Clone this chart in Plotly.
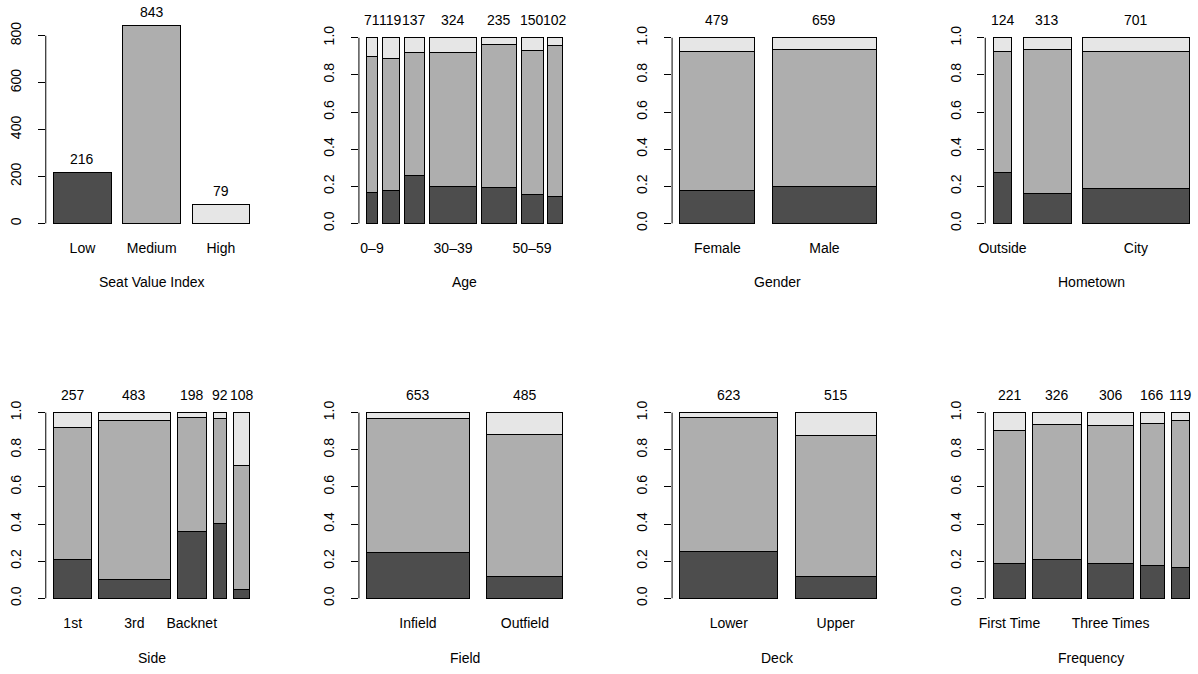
import plotly.graph_objects as go

# ---------------- data ----------------
level_names = ["Low", "Medium", "High"]
level_colors = ["#4D4D4D", "#AEAEAE", "#E6E6E6"]

svi_labels = ["Low", "Medium", "High"]
svi_counts = [216, 843, 79]

age_labels = ["0–9", "10–19", "20–29", "30–39", "40–49", "50–59", "60+"]
age_shown = ["0–9", "30–39", "50–59"]
age_low = [12, 21, 35, 64, 46, 23, 15]
age_med = [52, 85, 91, 235, 180, 117, 83]
age_high = [7, 13, 11, 25, 9, 10, 4]

gender_labels = ["Female", "Male"]
gender_shown = ["Female", "Male"]
gender_low = [84, 132]
gender_med = [359, 484]
gender_high = [36, 43]

home_labels = ["Outside", "Prefecture", "City"]
home_shown = ["Outside", "City"]
home_low = [34, 50, 132]
home_med = [81, 244, 518]
home_high = [9, 19, 51]

side_labels = ["1st", "3rd", "Backnet", "Left", "Right"]
side_shown = ["1st", "3rd", "Backnet"]
side_low = [53, 50, 71, 37, 5]
side_med = [184, 413, 122, 52, 72]
side_high = [20, 20, 5, 3, 31]

field_labels = ["Infield", "Outfield"]
field_shown = ["Infield", "Outfield"]
field_low = [160, 56]
field_med = [472, 371]
field_high = [21, 58]

deck_labels = ["Lower", "Upper"]
deck_shown = ["Lower", "Upper"]
deck_low = [157, 59]
deck_med = [450, 393]
deck_high = [16, 63]

freq_labels = ["First Time", "Twice", "Three Times", "Four Times", "Five+ Times"]
freq_shown = ["First Time", "Three Times"]
freq_low = [41, 68, 58, 29, 20]
freq_med = [159, 237, 226, 127, 94]
freq_high = [21, 21, 22, 10, 5]

# ---------------- layout geometry (pixels) ----------------
W, H = 1198, 674
FONT = "Liberation Sans, Arial, Helvetica, sans-serif"
FS = 14
col_left = [39, 354, 669, 984]
plot_w = 213
row_y0 = [220, 597.7]   # pixel of y = 0
row_y1 = [33, 410.7]    # pixel of y = 1
title_y = [279.3, 657.7]
unit_px = 187.0

fig = go.Figure()
layout = dict(width=W, height=H, margin=dict(l=0, r=0, t=0, b=0),
              paper_bgcolor="white", plot_bgcolor="white",
              showlegend=False, barmode="stack",
              font=dict(family=FONT, size=FS, color="black"))
shapes, annotations = [], []


def ax(letter, k):
    return letter if k == 1 else f"{letter}{k}"


def px_x(p):
    return p / W


def px_y(p):
    return 1 - p / H


def add_yaxis(k, rng, dom, tickvals, ticktext):
    layout[f"yaxis{'' if k == 1 else k}"] = dict(
        domain=dom, range=rng, anchor=ax("x", k),
        tickvals=tickvals, ticktext=ticktext,
        tickangle=-90, ticks="outside", ticklen=7,
        tickwidth=1, tickcolor="black",
        showgrid=False, zeroline=False, showline=False,
        ticklabelstandoff=11,
        tickfont=dict(family=FONT, size=FS, color="black"))


def add_xaxis(k, rng, dom, tickvals, ticktext):
    layout[f"xaxis{'' if k == 1 else k}"] = dict(
        domain=dom, range=rng, anchor=ax("y", k),
        tickvals=tickvals, ticktext=ticktext,
        ticks="", showgrid=False, zeroline=False,
        showline=False, ticklabelstandoff=7,
        tickfont=dict(family=FONT, size=FS, color="black"))


def add_title(k, text, row):
    annotations.append(dict(text=text, xref=f"{ax('x', k)} domain", x=0.5,
                            yref="paper", y=px_y(title_y[row]),
                            xanchor="center", yanchor="middle",
                            showarrow=False, font=dict(family=FONT, size=FS)))


# ---------------- panel 1: plain barplot ----------------
k = 1
bw = 1.0
sp = 0.2
centers = [sp + bw / 2 + i * (bw + sp) for i in range(len(svi_counts))]
xl = sp, len(svi_counts) * (bw + sp)
xr = xl[1] - xl[0]
xrange = [xl[0] - 0.04 * xr, xl[1] + 0.04 * xr]
ppu = 189.0 / 800  # pixels per count
y0p = row_y0[0]
top_px = 3
bot_px = y0p + 0.04 * 800 * ppu
yrange = [-(bot_px - y0p) / ppu, (y0p - top_px) / ppu]
fig.add_trace(go.Bar(x=centers, y=svi_counts, width=[bw] * 3,
                     marker=dict(color=level_colors, line=dict(color="black", width=1)),
                     xaxis="x", yaxis="y", hoverinfo="skip"))
add_xaxis(k, xrange, [px_x(col_left[0]), px_x(col_left[0] + plot_w)], centers, svi_labels)
add_yaxis(k, yrange, [px_y(bot_px), px_y(top_px)], [0, 200, 400, 600, 800],
          ["0", "200", "400", "600", "800"])
shapes.append(dict(type="line", xref="x domain", x0=0, x1=0, yref="y", y0=0, y1=800,
                   line=dict(color="black", width=1)))
for c, v in zip(centers, svi_counts):
    annotations.append(dict(text=str(v), xref="x", x=c, yref="y", y=v, yshift=14,
                            yanchor="middle", showarrow=False))
add_title(k, "Seat Value Index", 0)

# ---------------- spine panels ----------------
panels = [
    (2, 0, 1, "Age", age_labels, age_shown, age_low, age_med, age_high),
    (3, 0, 2, "Gender", gender_labels, gender_shown, gender_low, gender_med, gender_high),
    (4, 0, 3, "Hometown", home_labels, home_shown, home_low, home_med, home_high),
    (5, 1, 0, "Side", side_labels, side_shown, side_low, side_med, side_high),
    (6, 1, 1, "Field", field_labels, field_shown, field_low, field_med, field_high),
    (7, 1, 2, "Deck", deck_labels, deck_shown, deck_low, deck_med, deck_high),
    (8, 1, 3, "Frequency", freq_labels, freq_shown, freq_low, freq_med, freq_high),
]

for k, row, col, title, labels, shown, lo, me, hi in panels:
    n = [a + b + c for a, b, c in zip(lo, me, hi)]
    N = sum(n)
    s = 0.2 * N / len(n)
    lefts, pos = [], s
    for w in n:
        lefts.append(pos)
        pos += w + s
    cents = [l + w / 2 for l, w in zip(lefts, n)]
    x_lo, x_hi = s, lefts[-1] + n[-1]
    rg = x_hi - x_lo
    xrange = [x_lo - 0.04 * rg, x_hi + 0.04 * rg]
    bot = row_y0[row] + 0.04 * unit_px
    top = row_y1[row] - 0.04 * unit_px
    for vals, colr in zip([lo, me, hi], level_colors):
        fig.add_trace(go.Bar(x=cents, y=[v / t for v, t in zip(vals, n)], width=n,
                             marker=dict(color=colr, line=dict(color="black", width=1)),
                             xaxis=ax("x", k), yaxis=ax("y", k), hoverinfo="skip"))
    tv = [c for c, lab in zip(cents, labels) if lab in shown]
    tt = [lab for lab in labels if lab in shown]
    add_xaxis(k, xrange, [px_x(col_left[col]), px_x(col_left[col] + plot_w)], tv, tt)
    add_yaxis(k, [-0.04, 1.04], [px_y(bot), px_y(top)],
              [0, 0.2, 0.4, 0.6, 0.8, 1.0], ["0.0", "0.2", "0.4", "0.6", "0.8", "1.0"])
    shapes.append(dict(type="line", xref=f"x{k} domain", x0=0, x1=0, yref=f"y{k}",
                       y0=0, y1=1, line=dict(color="black", width=1)))
    for c, v in zip(cents, n):
        annotations.append(dict(text=str(v), xref=f"x{k}", x=c, yref=f"y{k}", y=1,
                                yshift=18, yanchor="middle", showarrow=False))
    add_title(k, title, row)

layout["shapes"] = shapes
layout["annotations"] = annotations
fig.update_layout(**layout)
fig.write_html("out.html", config={"displayModeBar": False},
               post_script="document.body.style.margin='0';document.body.style.overflow='hidden';")
